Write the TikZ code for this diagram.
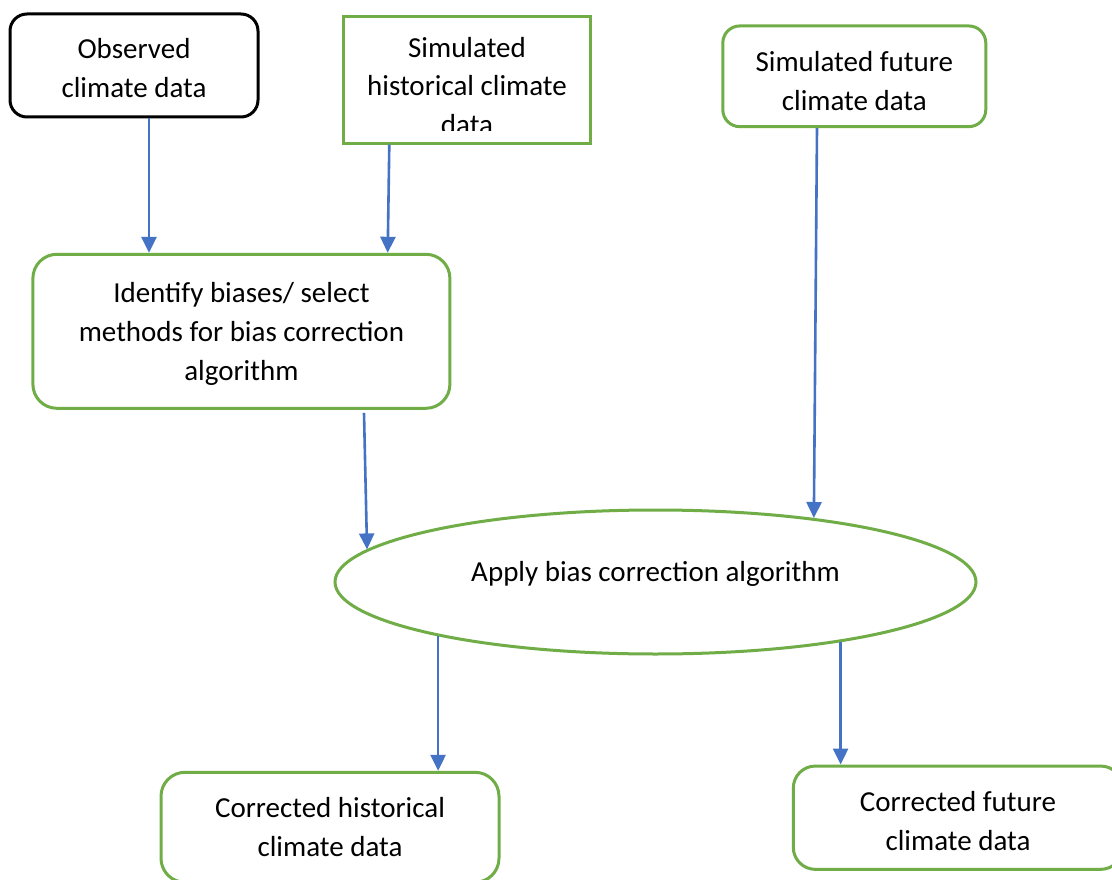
\documentclass[tikz,border=0pt]{standalone}
\usepackage{fontspec}
\setmainfont{Carlito}
\usetikzlibrary{shapes.geometric,arrows.meta,calc}
\definecolor{grn}{HTML}{70AD47}
\definecolor{blu}{HTML}{4472C4}
\newcommand\tup[1]{\rule{0pt}{#1}}
\begin{document}
\begin{tikzpicture}[x=1pt,y=-1pt,
  txt/.style={align=center, inner sep=0pt, font=\fontsize{29}{38.8}\selectfont},
  box/.style={txt, draw, line width=3pt},
  gbox/.style={box, draw=grn},
  arr/.style={draw=blu, line width=2.6pt, -{Triangle[length=16pt,width=15pt]}}]
\fill[white] (0,0) rectangle (1112,880);
\useasboundingbox (0,0) rectangle (1112,880);
\clip (0,0) rectangle (1112,880);
% boxes
\node[box, draw=black, rounded corners=17pt, minimum width=248pt, minimum height=103pt] (obs) at (134,65.5) {\tup{24.5pt}Observed\\climate data};
\node[gbox, minimum width=247pt, minimum height=127pt] (simh) at (466.7,79.7) {};
\begin{scope}
  \clip (343,16) rectangle (591,130.7);
  \node[txt] (simhtxt) at (467,86) {Simulated\\historical climate\\data};
\end{scope}
\node[gbox, rounded corners=17pt, minimum width=263pt, minimum height=100.7pt] (simf) at (854.3,76.3) {\tup{29.5pt}Simulated future\\climate data};
\node[gbox, rounded corners=24pt, minimum width=417pt, minimum height=154pt] (ident) at (241.4,331.3) {\tup{25.5pt}Identify biases/ select\\methods for bias correction\\algorithm};
\node[txt, draw=grn, line width=3pt, ellipse, minimum width=641pt, minimum height=144pt, text height=21.5pt, text depth=23.5pt] (ell) at (655.5,582) {Apply bias correction algorithm};
\node[gbox, rounded corners=24pt, minimum width=338pt, minimum height=110pt] (corrh) at (330,827.3) {Corrected historical\\climate data};
\node[gbox, rounded corners=22pt, minimum width=329.4pt, minimum height=103.3pt] (corrf) at (958,817.7) {\tup{26.5pt}Corrected future\\climate data};
% connectors
\draw[arr] ([xshift=15pt]obs.south) -- ([xshift=15pt]obs.south |- ident.north);
\draw[arr] ([xshift=-77.4pt]simh.south) -- ([xshift=146.3pt]ident.north);
\draw[arr] ([xshift=-37.3pt]simf.south) -- (ell.22);
\draw[arr] ([xshift=122.6pt,yshift=-3pt]ident.south) -- ($(ell.173)!0.55!(ell.174)$);
\draw[arr] (ell.194) -- (ell.194 |- corrh.north);
\draw[arr] (ell.342) -- (ell.342 |- corrf.north);
\end{tikzpicture}
\end{document}
